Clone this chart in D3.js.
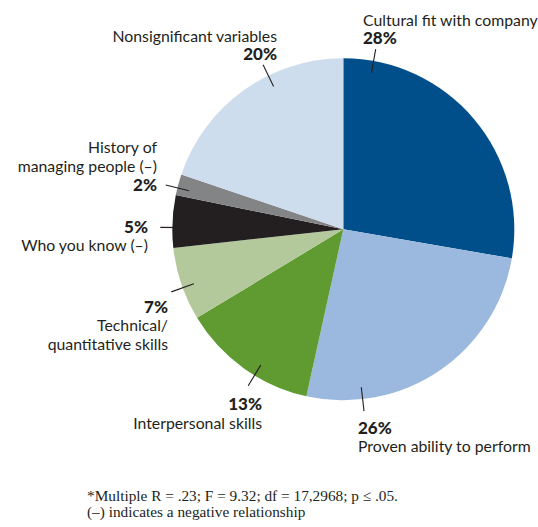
<!DOCTYPE html>
<html>
<head>
<meta charset="utf-8">
<script src="https://cdn.jsdelivr.net/npm/d3@7"></script>
<style>
  html, body { margin: 0; padding: 0; background: #ffffff; }
  svg { display: block; }
  .lbl { font-family: Lato, "Noto Sans", sans-serif; fill: #231f20; }
  .pct { font-weight: 900; }
  .note { font-family: "Liberation Serif", "DejaVu Serif", serif; fill: #231f20; }
</style>
</head>
<body>
<svg id="chart" width="538" height="527"></svg>
<script>
// Share of explained variance by factor, clockwise from 12 o'clock
const categories = [
  ["Cultural fit with company"],
  ["Proven ability to perform"],
  ["Interpersonal skills"],
  ["Technical/", "quantitative skills"],
  ["Who you know (–)"],
  ["History of", "managing people (–)"],
  ["Nonsignificant variables"]
];
const values = [28, 26, 13, 7, 5, 2, 20];
const colors = ["#004f8a", "#9bb9de", "#5f9b31", "#b4c99b", "#231f20", "#838486", "#cedded"];
const footnotes = [
  "*Multiple R = .23; F = 9.32; df = 17,2968; p ≤ .05.",
  "(–) indicates a negative relationship"
];

// Label placement: text anchor, x, baseline of first line, whether the % comes first,
// and the angle (degrees clockwise from top) of the leader line.
const labelLayout = [
  { anchor: "start", x: 363, y: 25.5, pctFirst: false, leader: 10.2 },
  { anchor: "start", x: 358, y: 433.5, pctFirst: true, leader: 173.5 },
  { anchor: "end", x: 262, y: 410, pctFirst: true, leader: 211.3 },
  { anchor: "end", x: 168, y: 312.5, pctFirst: true, leader: 250 },
  { anchor: "end", x: 148, y: 232.5, pctFirst: true, leader: 270.6 },
  { anchor: "end", x: 157, y: 153, pctFirst: false, leader: 284 },
  { anchor: "end", x: 277, y: 41.5, pctFirst: false, leader: 334 }
];

const svg = d3.select("#chart");
const cx = 343.3, cy = 229.3, radius = 171;
const lineGap = 18.8;

const g = svg.append("g").attr("transform", `translate(${cx},${cy})`);

const pie = d3.pie().sort(null).value(d => d).startAngle(0).endAngle(2 * Math.PI);
const arcs = pie(values);
const arc = d3.arc().innerRadius(0).outerRadius(radius);

g.selectAll("path.slice")
  .data(arcs)
  .join("path")
  .attr("class", "slice")
  .attr("d", arc)
  .attr("fill", (d, i) => colors[i]);

// Leader lines
const rIn = 159, rOut = 183;
const polar = (deg, r) => {
  const a = deg * Math.PI / 180;
  return [Math.sin(a) * r, -Math.cos(a) * r];
};
g.selectAll("line.leader")
  .data(labelLayout)
  .join("line")
  .attr("class", "leader")
  .attr("x1", d => polar(d.leader, rIn)[0])
  .attr("y1", d => polar(d.leader, rIn)[1])
  .attr("x2", d => polar(d.leader, rOut)[0])
  .attr("y2", d => polar(d.leader, rOut)[1])
  .attr("stroke", "#231f20")
  .attr("stroke-width", 1.1);

// Category labels with percentages
labelLayout.forEach((L, i) => {
  const lines = categories[i].map(t => ({ t, pct: false }));
  const pctLine = { t: values[i] + "%", pct: true };
  const all = L.pctFirst ? [pctLine, ...lines] : [...lines, pctLine];
  all.forEach((ln, k) => {
    svg.append("text")
      .attr("class", ln.pct ? "lbl pct" : "lbl")
      .attr("x", L.x)
      .attr("y", L.y + k * lineGap)
      .attr("text-anchor", L.anchor)
      .attr("font-size", ln.pct ? 17 : 15.8)
      .text(ln.t);
  });
});

// Footnotes
svg.selectAll("text.note")
  .data(footnotes)
  .join("text")
  .attr("class", "note")
  .attr("x", 87)
  .attr("y", (d, i) => 501 + i * 15.5)
  .attr("font-size", 15.3)
  .text(d => d);
</script>
</body>
</html>
